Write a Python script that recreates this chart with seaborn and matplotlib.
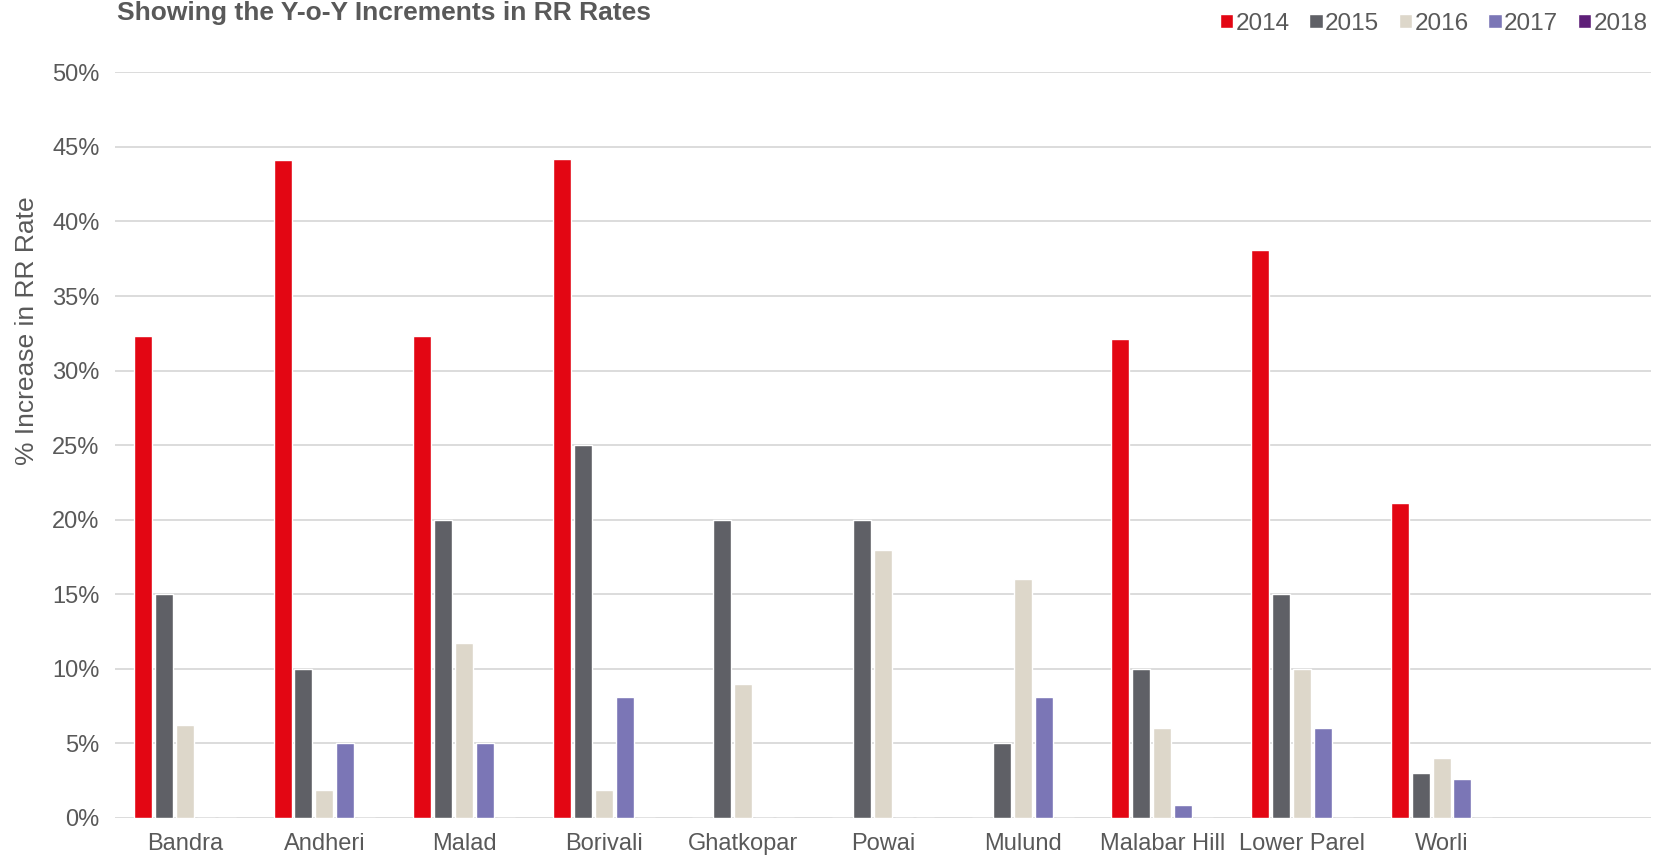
import pandas as pd
import numpy as np
import matplotlib
matplotlib.use("Agg")
import matplotlib.pyplot as plt
from matplotlib.ticker import PercentFormatter
import seaborn as sns

# ~~~~~~~~~~~~~~~~~~~~~~~~~~~~~~~~~~~~~~~~~~~~~~~~~~~~~~~~~~~~~~~~~~~~~~~
# Data: % increase in RR rate per location and year
# ~~~~~~~~~~~~~~~~~~~~~~~~~~~~~~~~~~~~~~~~~~~~~~~~~~~~~~~~~~~~~~~~~~~~~~~
locations = ["Bandra", "Andheri", "Malad", "Borivali", "Ghatkopar",
             "Powai", "Mulund", "Malabar Hill", "Lower Parel", "Worli"]
years = ["2014", "2015", "2016", "2017", "2018"]

pct_2014 = [32.3, 44.1, 32.3, 44.2, 0.0, 0.0, 0.0, 32.1, 38.1, 21.1]
pct_2015 = [15.0, 10.0, 20.0, 25.0, 20.0, 20.0, 5.0, 10.0, 15.0, 3.0]
pct_2016 = [6.2, 1.85, 11.7, 1.9, 9.0, 18.0, 16.0, 6.05, 10.0, 4.05]
pct_2017 = [0.0, 5.0, 5.0, 8.1, 0.0, 0.0, 8.1, 0.85, 6.05, 2.6]
pct_2018 = [0.0, 0.0, 0.0, 0.0, 0.0, 0.0, 0.0, 0.0, 0.0, 0.0]

colors = ["#E30613", "#5F6066", "#DDD7CA", "#7B76B6", "#5E1F78"]

rows = []
for yr, vals in zip(years, [pct_2014, pct_2015, pct_2016, pct_2017, pct_2018]):
    for loc, v in zip(locations, vals):
        rows.append({"location": loc, "year": yr, "pct": v})
df = pd.DataFrame(rows)

# ~~~~~~~~~~~~~~~~~~~~~~~~~~~~~~~~~~~~~~~~~~~~~~~~~~~~~~~~~~~~~~~~~~~~~~~
sns.set_style("white")
plt.rcParams["font.family"] = ["Liberation Sans", "DejaVu Sans"]
txt = "#595959"

fig = plt.figure(figsize=(16.66, 8.59), dpi=100)
ax = fig.add_axes([0.069, 0.0478, 0.922, 0.868])

sns.barplot(data=df, x="location", y="pct", hue="year", order=locations,
            hue_order=years, palette=colors, width=0.75, gap=0.14,
            saturation=1, errorbar=None, legend=True, ax=ax)

ax.set_xlim(-0.5, 10.5)   # room for an empty 11th slot like the original
ax.set_ylim(0, 50)
ax.set_yticks(np.arange(0, 51, 5))
ax.yaxis.set_major_formatter(PercentFormatter(xmax=100, decimals=0))
ax.grid(axis="y", color="#D9D9D9", linewidth=1.3)
ax.set_axisbelow(True)
for s in ax.spines.values():
    s.set_visible(False)
ax.tick_params(axis="both", length=0, labelsize=17, labelcolor=txt)
ax.tick_params(axis="x", pad=11)
ax.tick_params(axis="y", pad=11)
ax.set_xlabel("")
ax.set_ylabel("")

fig.text(0.016, 0.615, "% Increase in RR Rate", rotation=90, ha="center",
         va="center", fontsize=19, color=txt)
# original title sits right at the top edge; keep it just inside the image
fig.text(0.07, 0.977, "Showing the Y-o-Y Increments in RR Rates",
         fontsize=19, fontweight="bold", color=txt, va="baseline")

handles, labels = ax.get_legend_handles_labels()
ax.legend(handles, labels, ncol=5, frameon=False, loc="upper right",
          bbox_to_anchor=(0.999, 1.005), bbox_transform=fig.transFigure,
          fontsize=17.5, labelcolor=txt, handlelength=0.55, handleheight=0.55,
          handletextpad=0.1, columnspacing=0.8, borderaxespad=0.3)

fig.savefig("out.png", dpi=100)
